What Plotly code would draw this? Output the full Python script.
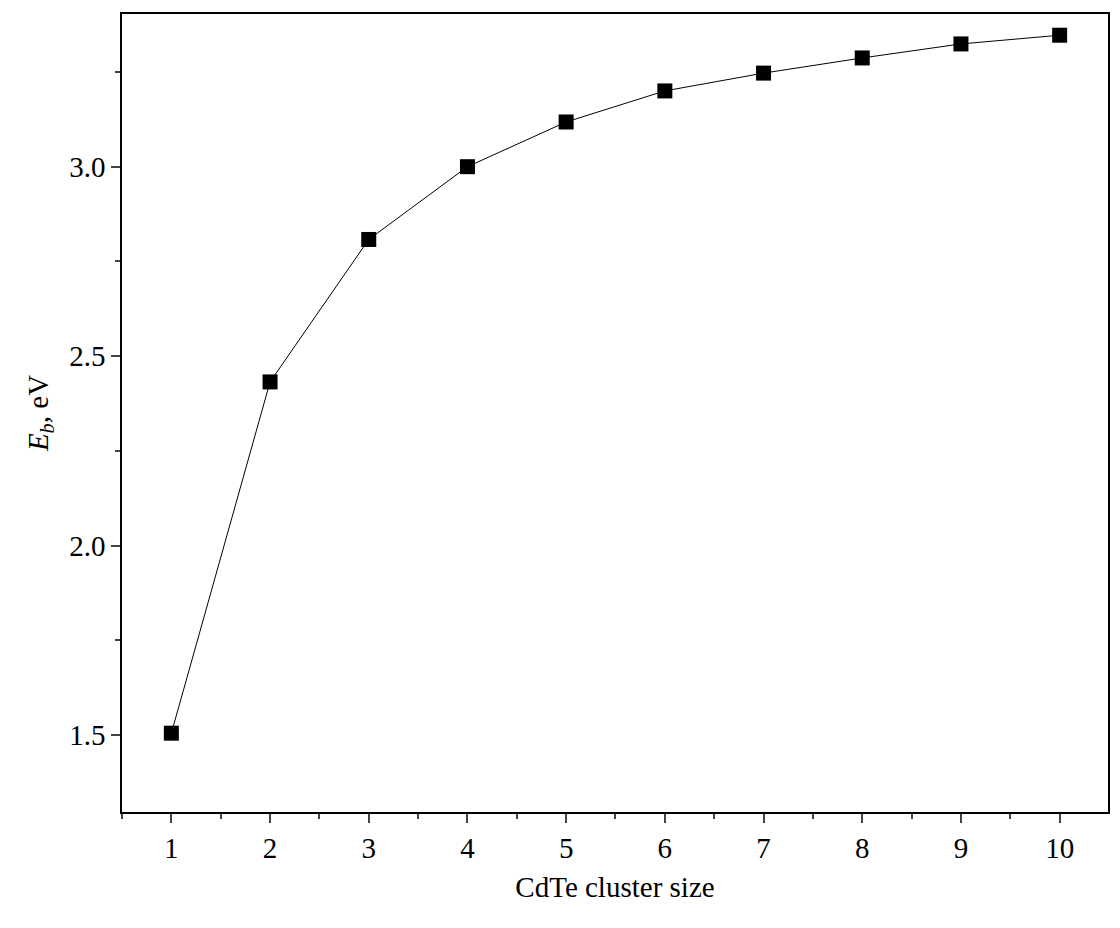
import plotly.graph_objects as go

cluster_size = [1, 2, 3, 4, 5, 6, 7, 8, 9, 10]
binding_energy = [1.505, 2.432, 2.808, 3.0, 3.118, 3.2, 3.247, 3.287, 3.324, 3.347]

fig = go.Figure(go.Scatter(
    x=cluster_size, y=binding_energy, mode="lines+markers",
    line=dict(color="black", width=1),
    marker=dict(symbol="square", size=15, color="black"),
))
font = dict(family="Liberation Serif, DejaVu Serif, serif", size=29, color="black")
axis = dict(showline=True, linecolor="black", linewidth=1.5, mirror=True,
            ticks="outside", ticklen=9, tickwidth=1.5, showgrid=False, zeroline=False,
            tickfont=font)
fig.update_layout(
    width=1120, height=928, plot_bgcolor="white", paper_bgcolor="white",
    margin=dict(l=114, r=20, t=4, b=124), showlegend=False, font=font,
    xaxis=dict(**axis, range=[0.5, 10.49], tickvals=cluster_size,
               minor=dict(tickvals=[x + 0.5 for x in range(0, 11)], ticks="outside", ticklen=5, tickwidth=1.5),
               title=dict(text="CdTe cluster size", font=font, standoff=14)),
    yaxis=dict(**axis, range=[1.297, 3.403], tickvals=[1.5, 2.0, 2.5, 3.0], ticktext=["1.5", "2.0", "2.5", "3.0"],
               minor=dict(tickvals=[1.25, 1.75, 2.25, 2.75, 3.25], ticks="outside", ticklen=5, tickwidth=1.5),
               title=dict(text="<i>E</i><sub><i>b</i></sub>, eV", font=font, standoff=12)),
)
fig.write_html("out.html")
